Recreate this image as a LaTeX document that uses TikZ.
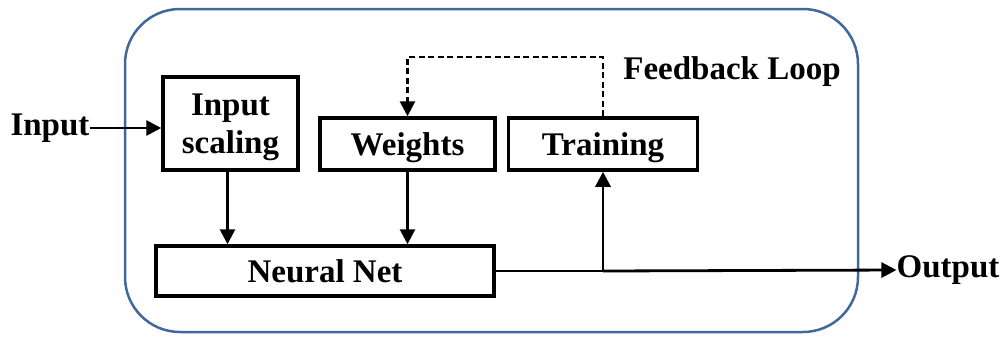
\documentclass[tikz,border=0pt]{standalone}
\usepackage{fontspec}
\setmainfont{Liberation Serif}
\usetikzlibrary{arrows.meta}
\definecolor{framblue}{RGB}{65,104,155}
\begin{document}
\begin{tikzpicture}[x=1pt,y=-1pt,
  every node/.style={font=\fontsize{33}{38}\selectfont\bfseries},
  blk/.style={draw, line width=3.5pt, inner sep=0pt, align=center, text depth=0pt},
  lbl/.style={inner sep=0pt},
  arr/.style={line width=2.8pt, -{Triangle[length=15pt,width=15pt]}},
  ln/.style={line width=2.8pt},
  dsh/.style={line width=2.8pt, dash pattern=on 6pt off 3.5pt, -{Triangle[length=15pt,width=15pt]}}]
\useasboundingbox (0,0) rectangle (1006,341);
\node[draw=framblue, line width=2.5pt, rounded corners=55pt, minimum width=733pt, minimum height=323pt] (frame) at (491.5,170.5) {};
\node[blk, minimum width=135pt, minimum height=93pt] (scal) at (230.5,123.5) {Input\\scaling};
\node[blk, minimum width=175pt, minimum height=52pt] (wts) at (407.5,144) {Weights};
\node[blk, minimum width=189pt, minimum height=52pt] (trn) at (603,144) {Training};
\node[blk, minimum width=338pt, minimum height=50pt] (nn) at (325,271) {Neural Net};
\node[lbl] (in) at (50,128) {Input};
\node[lbl] (out) at (948,270) {Output};
\node[lbl] (fb) at (732,72) {Feedback Loop};
\coordinate (split) at (trn.south |- nn.east);
\coordinate (c1) at (604,57);
\coordinate (c2) at (408,57);
\draw[arr] (in.east) -- (scal.west |- in.east);
\draw[arr] ([xshift=-3pt]scal.south) -- ([xshift=-3pt]scal.south |- nn.north);
\draw[arr] (wts.south) -- (wts.south |- nn.north);
\draw[ln] (nn.east) -- (split);
\draw[arr] (split) -- (out.west);
\draw[arr] (split) -- (trn.south);
\draw[dsh] (trn.north) -- (trn.north |- c1) -- (wts.north |- c2) -- (wts.north);
\end{tikzpicture}
\end{document}
